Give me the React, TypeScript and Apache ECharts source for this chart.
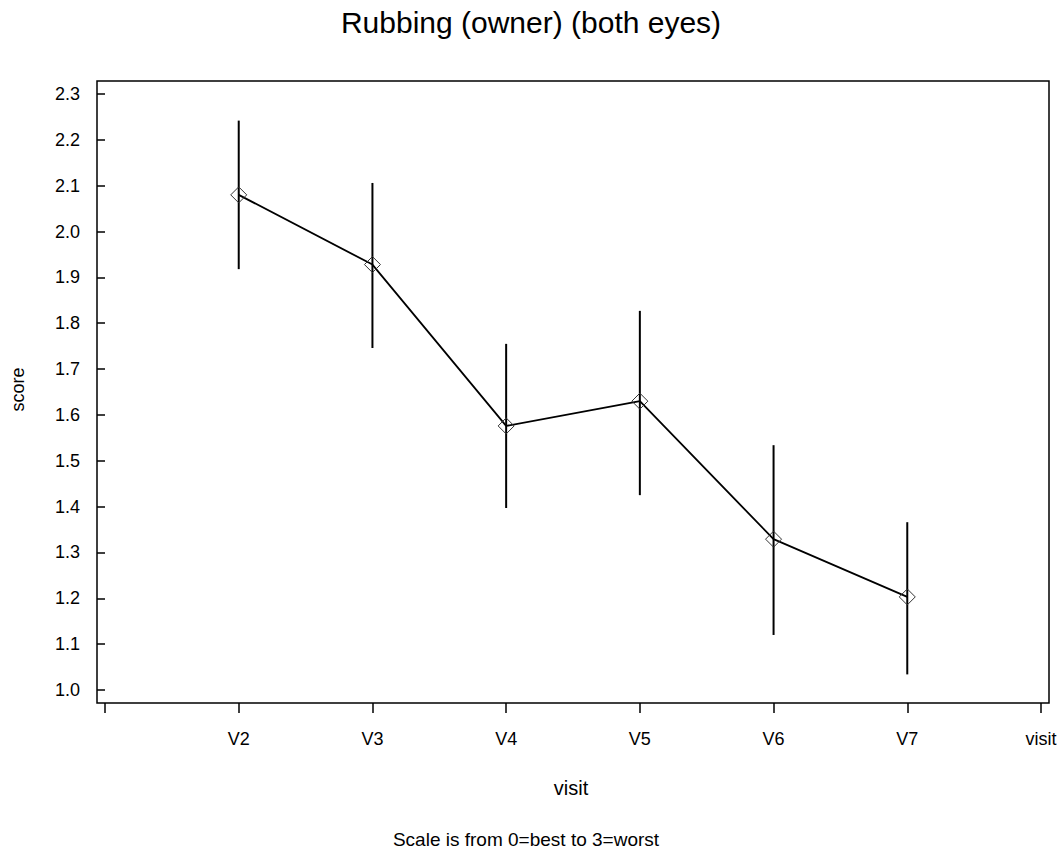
import React, { useEffect, useRef } from "react";
import * as echarts from "echarts";

const visitLabels = ["", "V2", "V3", "V4", "V5", "V6", "V7", "visit"];
const visitPos = [1, 2, 3, 4, 5, 6];
const means = [2.08, 1.928, 1.576, 1.63, 1.329, 1.203];
const upper = [2.242, 2.106, 1.755, 1.827, 1.534, 1.366];
const lower = [1.918, 1.746, 1.397, 1.425, 1.12, 1.034];
const yTicks = [1.0, 1.1, 1.2, 1.3, 1.4, 1.5, 1.6, 1.7, 1.8, 1.9, 2.0, 2.1, 2.2, 2.3];
const xTicks = [0, 1, 2, 3, 4, 5, 6, 7];

const FONT = "'Liberation Sans', Arial, sans-serif";

export default function App() {
  const ref = useRef<HTMLDivElement>(null);
  useEffect(() => {
    document.body.style.margin = "0";
    const chart = echarts.init(ref.current!, null, { renderer: "svg" });
    const lineData = visitPos.map((x, i) => [x, means[i]]);
    const errData = visitPos.map((x, i) => [x, lower[i], upper[i]]);
    chart.setOption({
      animation: false,
      backgroundColor: "#fff",
      textStyle: { fontFamily: FONT },
      grid: {
        left: 97,
        right: 13,
        top: 81,
        bottom: 149,
        show: true,
        borderColor: "#000",
        borderWidth: 1.5,
        backgroundColor: "transparent",
      },
      xAxis: {
        type: "value",
        min: -0.06,
        max: 7.06,
        splitLine: { show: false },
        axisLine: { show: false },
        axisTick: {
          show: true,
          length: 10,
          customValues: xTicks,
          lineStyle: { color: "#000", width: 1.5 },
        },
        axisLabel: {
          customValues: xTicks,
          formatter: (v: number) => visitLabels[Math.round(v)] ?? "",
          color: "#000",
          fontSize: 18,
          fontFamily: FONT,
          margin: 27,
        },
      },
      yAxis: {
        type: "value",
        min: 0.9716,
        max: 2.3284,
        splitLine: { show: false },
        axisLine: { show: false },
        axisTick: {
          show: true,
          length: 8,
          customValues: yTicks,
          lineStyle: { color: "#000", width: 1.5 },
        },
        axisLabel: {
          customValues: yTicks,
          formatter: (v: number) => v.toFixed(1),
          color: "#000",
          fontSize: 18,
          fontFamily: FONT,
          margin: 17,
        },
      },
      graphic: [
        {
          type: "text",
          x: 531,
          y: 22,
          style: {
            text: "Rubbing (owner) (both eyes)",
            fontSize: 30,
            fontFamily: FONT,
            fill: "#000",
            textAlign: "center",
            textVerticalAlign: "middle",
          },
        },
        {
          type: "text",
          x: 571,
          y: 788,
          style: {
            text: "visit",
            fontSize: 20,
            fontFamily: FONT,
            fill: "#000",
            textAlign: "center",
            textVerticalAlign: "middle",
          },
        },
        {
          type: "text",
          x: 17.5,
          y: 389.5,
          rotation: Math.PI / 2,
          style: {
            text: "score",
            fontSize: 18,
            fontFamily: FONT,
            fill: "#000",
            textAlign: "center",
            textVerticalAlign: "middle",
          },
        },
        {
          type: "text",
          x: 526,
          y: 839,
          style: {
            text: "Scale is from 0=best to 3=worst",
            fontSize: 19,
            fontFamily: FONT,
            fill: "#000",
            textAlign: "center",
            textVerticalAlign: "middle",
          },
        },
      ],
      series: [
        {
          type: "custom",
          data: errData,
          renderItem: (params: any, api: any) => {
            const x = api.value(0);
            const p1 = api.coord([x, api.value(1)]);
            const p2 = api.coord([x, api.value(2)]);
            return {
              type: "line",
              shape: { x1: p1[0], y1: p1[1], x2: p2[0], y2: p2[1] },
              style: { stroke: "#000", lineWidth: 2 },
            };
          },
          z: 1,
        },
        {
          type: "line",
          data: lineData,
          symbol: "diamond",
          symbolSize: 16,
          lineStyle: { color: "#000", width: 1.8 },
          itemStyle: { color: "transparent", borderColor: "#333", borderWidth: 1 },
          z: 2,
        },
      ],
    });
    return () => chart.dispose();
  }, []);
  return <div ref={ref} style={{ width: 1062, height: 852 }} />;
}
